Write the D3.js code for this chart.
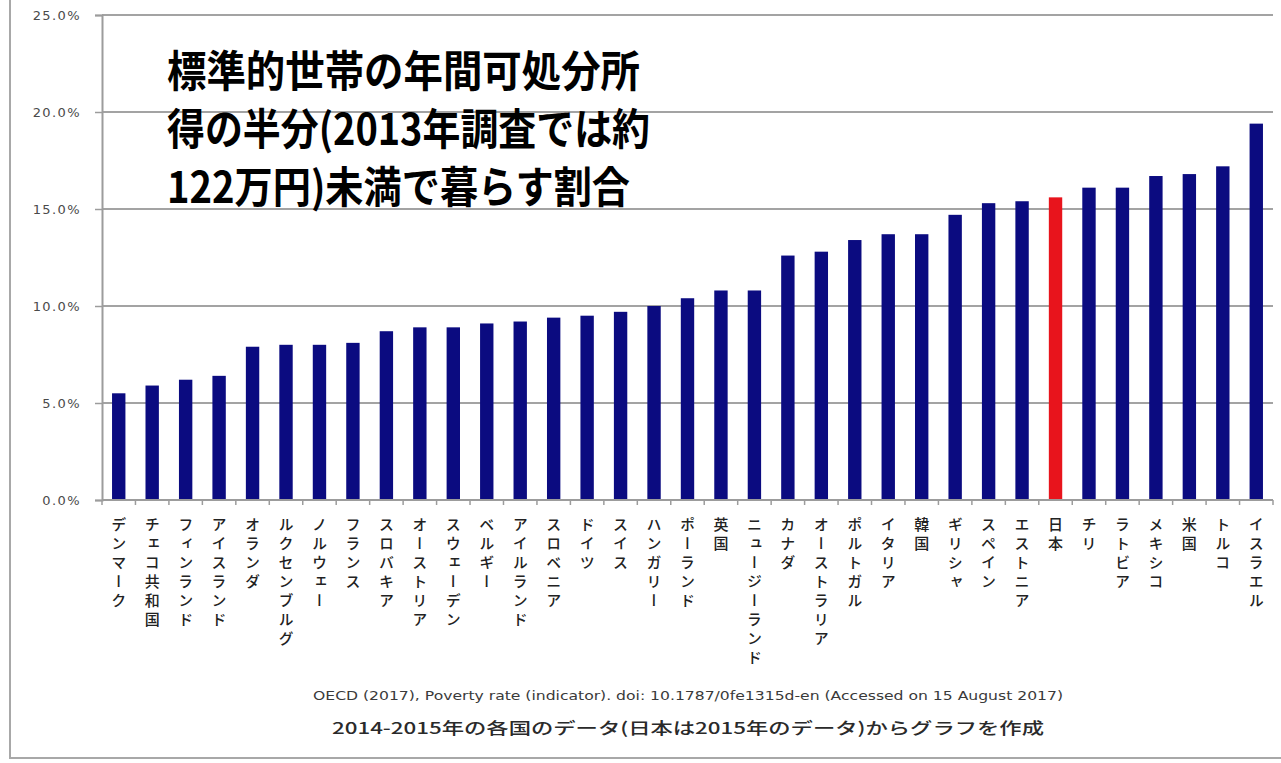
<!DOCTYPE html>
<html lang="ja">
<head>
<meta charset="utf-8">
<script src="https://cdn.jsdelivr.net/npm/d3@7"></script>
<style>
  html, body { margin: 0; padding: 0; background: #ffffff; }
  svg { display: block; }
</style>
</head>
<body>
<svg id="chart" width="1281" height="763"></svg>
<script>
// OECD relative poverty rate by country (%), sorted ascending
const countries = [
  "デンマーク", "チェコ共和国", "フィンランド", "アイスランド", "オランダ",
  "ルクセンブルグ", "ノルウェー", "フランス", "スロバキア", "オーストリア",
  "スウェーデン", "ベルギー", "アイルランド", "スロベニア", "ドイツ",
  "スイス", "ハンガリー", "ポーランド", "英国", "ニュージーランド",
  "カナダ", "オーストラリア", "ポルトガル", "イタリア", "韓国",
  "ギリシャ", "スペイン", "エストニア", "日本", "チリ",
  "ラトビア", "メキシコ", "米国", "トルコ", "イスラエル"
];
const povertyRates = [
  5.5, 5.9, 6.2, 6.4, 7.9,
  8.0, 8.0, 8.1, 8.7, 8.9,
  8.9, 9.1, 9.2, 9.4, 9.5,
  9.7, 10.0, 10.4, 10.8, 10.8,
  12.6, 12.8, 13.4, 13.7, 13.7,
  14.7, 15.3, 15.4, 15.6, 16.1,
  16.1, 16.7, 16.8, 17.2, 19.4
];
const highlighted = "日本";
const yTicks = [0, 5, 10, 15, 20, 25];
const titleLines = [
  "標準的世帯の年間可処分所",
  "得の半分(2013年調査では約",
  "122万円)未満で暮らす割合"
];
const sourceLines = [
  "OECD (2017), Poverty rate (indicator). doi: 10.1787/0fe1315d-en (Accessed on 15 August 2017)",
  "2014-2015年の各国のデータ(日本は2015年のデータ)からグラフを作成"
];

const data = countries.map((c, i) => ({ country: c, value: povertyRates[i] }));

const svg = d3.select("#chart");
const plotLeft = 102, plotRight = 1273, plotTop = 15, plotBottom = 500;

const x = d3.scaleBand()
  .domain(countries)
  .range([plotLeft, plotRight])
  .paddingInner(0.6)
  .paddingOuter(0.3);

const y = d3.scaleLinear().domain([0, 25]).range([plotBottom, plotTop]);

// outer frame
svg.append("rect")
  .attr("x", 10).attr("y", -5)
  .attr("width", 1280).attr("height", 763)
  .attr("fill", "none")
  .attr("stroke", "#a8a8a8")
  .attr("stroke-width", 2);

// horizontal gridlines
svg.append("g")
  .selectAll("line")
  .data(yTicks.filter(t => t > 0))
  .join("line")
  .attr("x1", plotLeft).attr("x2", plotRight)
  .attr("y1", d => y(d)).attr("y2", d => y(d))
  .attr("stroke", "#a3a3a3")
  .attr("stroke-width", 2);

// y axis
const yAxis = svg.append("g")
  .attr("transform", `translate(${plotLeft},0)`)
  .call(d3.axisLeft(y).tickValues(yTicks).tickSize(7).tickPadding(14)
    .tickFormat(d => d3.format(".1f")(d) + "%"));
yAxis.select(".domain").attr("stroke", "#9c9c9c").attr("stroke-width", 2);
yAxis.selectAll(".tick line").attr("stroke", "#9c9c9c").attr("stroke-width", 1.5);
yAxis.selectAll(".tick text")
  .attr("fill", "#4a4a4a")
  .attr("font-family", "DejaVu Sans, sans-serif")
  .attr("font-size", 13)
  .attr("letter-spacing", 1.4);

// title text over the plot
const title = svg.append("g");
titleLines.forEach((line, i) => {
  title.append("text")
    .attr("x", 167)
    .attr("y", 87 + i * 58)
    .attr("font-family", "Noto Sans CJK JP, sans-serif")
    .attr("font-weight", "bold")
    .attr("font-size", 43)
    .attr("textLength", [473, 483, 463][i])
    .attr("lengthAdjust", "spacingAndGlyphs")
    .attr("fill", "#000")
    .text(line);
});

// bars
svg.append("g")
  .selectAll("rect")
  .data(data)
  .join("rect")
  .attr("x", d => x(d.country))
  .attr("width", x.bandwidth())
  .attr("y", d => y(d.value))
  .attr("height", d => y(0) - y(d.value))
  .attr("fill", d => d.country === highlighted ? "#e8141c" : "#0b0b80");

// x axis baseline with ticks between categories
const step = x.step();
const xAxis = svg.append("g");
xAxis.append("line")
  .attr("x1", plotLeft).attr("x2", plotRight)
  .attr("y1", plotBottom).attr("y2", plotBottom)
  .attr("stroke", "#9c9c9c").attr("stroke-width", 2);
xAxis.selectAll("line.sep")
  .data(d3.range(countries.length + 1))
  .join("line")
  .attr("class", "sep")
  .attr("x1", i => plotLeft + i * step).attr("x2", i => plotLeft + i * step)
  .attr("y1", plotBottom).attr("y2", plotBottom + 5)
  .attr("stroke", "#9c9c9c").attr("stroke-width", 1.5);

// vertical category labels
svg.append("g")
  .selectAll("text")
  .data(data)
  .join("text")
  .attr("x", d => x(d.country) + x.bandwidth() / 2)
  .attr("y", 517)
  .style("writing-mode", "vertical-rl")
  .attr("font-family", "Noto Sans CJK JP, sans-serif")
  .attr("font-size", 15)
  .attr("font-weight", 500)
  .attr("letter-spacing", 4)
  .attr("fill", "#222")
  .text(d => d.country);

// source notes
svg.append("text")
  .attr("x", 688).attr("y", 700)
  .attr("text-anchor", "middle")
  .attr("font-family", "DejaVu Sans, sans-serif")
  .attr("font-size", 13)
  .attr("textLength", 750)
  .attr("lengthAdjust", "spacingAndGlyphs")
  .attr("fill", "#3a3a3a")
  .text(sourceLines[0]);
svg.append("text")
  .attr("x", 688).attr("y", 734)
  .attr("text-anchor", "middle")
  .attr("font-family", "Noto Sans CJK JP, sans-serif")
  .attr("font-size", 16)
  .attr("font-weight", 500)
  .attr("textLength", 712)
  .attr("lengthAdjust", "spacingAndGlyphs")
  .attr("fill", "#2a2a2a")
  .text(sourceLines[1]);
</script>
</body>
</html>
